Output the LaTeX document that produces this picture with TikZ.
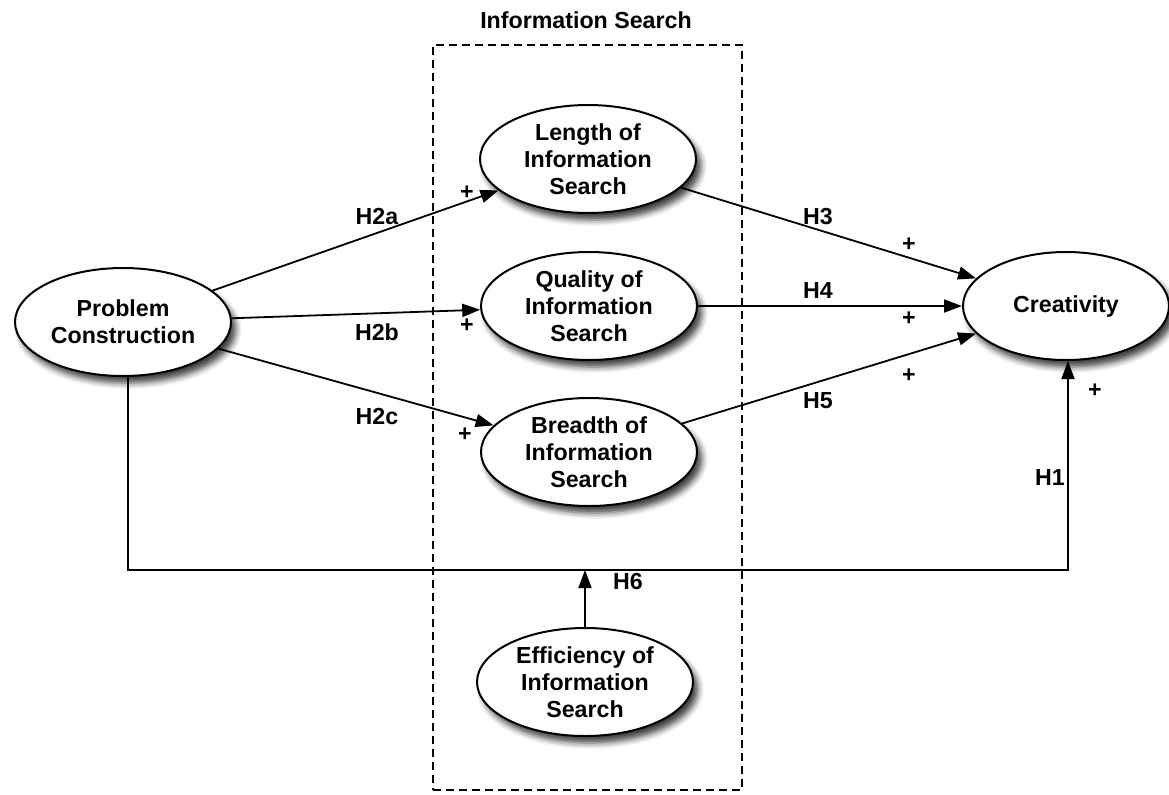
\documentclass[tikz,border=0pt]{standalone}
\usepackage{fontspec}
\setmainfont{Liberation Sans}
\usetikzlibrary{arrows.meta, shapes.geometric, shadows.blur}

\begin{document}
\begin{tikzpicture}[
    x=0.5pt, y=-0.5pt,
    font=\fontsize{11.6}{13.5}\selectfont\bfseries,
    construct/.style={draw, ellipse, align=center, inner sep=0pt, minimum width=108pt, minimum height=54pt, fill=white, line width=1pt,
        blur shadow={shadow xshift=2.5pt, shadow yshift=-3.5pt, shadow blur radius=3pt, shadow opacity=75}},
    groupbox/.style={draw, dash pattern=on 4pt off 2.5pt, line width=0.9pt, minimum width=154.5pt, minimum height=372.5pt},
    arrow/.style={-{Triangle[length=9pt, width=6.5pt]}, line width=0.9pt},
    hyp/.style={inner sep=0pt}
]
\useasboundingbox (0,0) rectangle (1169,794);

% Rahmen
\node (isbox) [groupbox] at (587.5,417.5) {};
\node (istitle) at (586,20) {Information Search};

% Konstrukte
\node (pc) [construct] at (123,322) {Problem\\Construction};
\node (len) [construct] at (588,159) {Length of\\Information\\Search};
\node (qual) [construct] at (589,306) {Quality of\\Information\\Search};
\node (brd) [construct] at (589,452) {Breadth of\\Information\\Search};
\node (eff) [construct] at (585,682) {Efficiency of\\Information\\Search};
\node (cr) [construct, minimum width=103pt] at (1066,306) {Creativity};
\coordinate (junc) at (585,570);

% Pfeile
\draw [arrow] (pc) -- (len);
\draw [arrow] (pc) -- (qual);
\draw [arrow] (pc) -- (brd);
\draw [arrow] (len) -- (cr);
\draw [arrow] (qual) -- (cr);
\draw [arrow] (brd) -- (cr);
\draw [arrow] ([xshift=2.5pt]pc.south) |- (junc) -| ([xshift=1pt]cr.south);
\draw [arrow] (eff) -- (junc);

% Hypothesen
\node (lh2a) [hyp] at (377,217) {H2a};
\node (lh2b) [hyp] at (377,332) {H2b};
\node (lh2c) [hyp] at (377,417) {H2c};
\node (lh3) [hyp] at (818,217) {H3};
\node (lh4) [hyp] at (818,291) {H4};
\node (lh5) [hyp] at (818,401) {H5};
\node (lh1) [hyp] at (1050,478) {H1};
\node (lh6) [hyp] at (628,582) {H6};
\node (p2a) [hyp] at (467,193) {+};
\node (p2b) [hyp] at (467,326) {+};
\node (p2c) [hyp] at (465,435) {+};
\node (p3) [hyp] at (909,245) {+};
\node (p4) [hyp] at (909,319) {+};
\node (p5) [hyp] at (909,376) {+};
\node (p1) [hyp] at (1095,391) {+};

\end{tikzpicture}
\end{document}
